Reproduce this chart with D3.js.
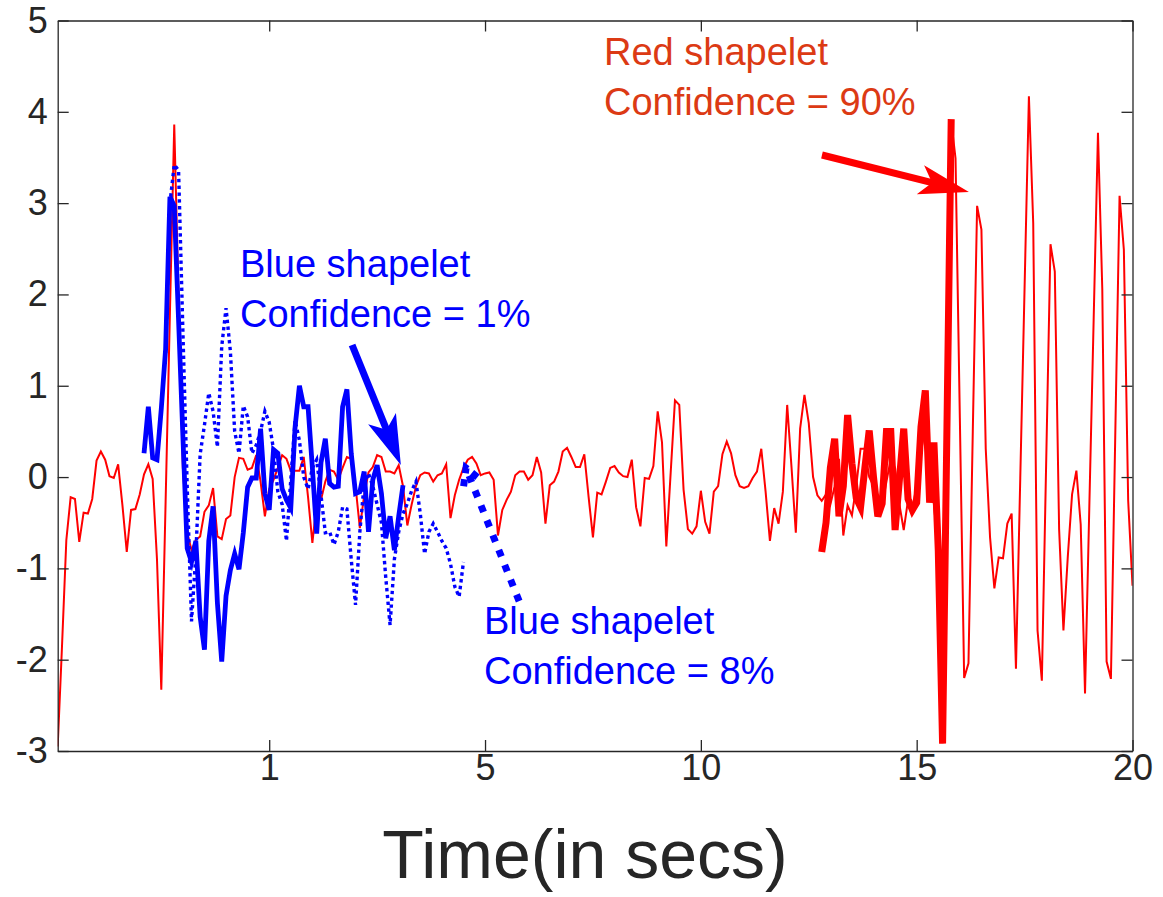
<!DOCTYPE html>
<html><head><meta charset="utf-8">
<script src="https://cdn.jsdelivr.net/npm/d3@7"></script>
<style>body{margin:0;background:#fff}svg{display:block}</style>
</head><body><svg id="chart" width="1163" height="897"></svg>
<script>
// ---------- data ----------
const redSignal = [
-2.95,-1.85,-0.69,-0.22,-0.24,-0.71,-0.39,-0.40,-0.24,0.18,
0.28,0.19,0.01,-0.01,0.14,-0.31,-0.82,-0.36,-0.35,-0.19,
0.03,0.14,-0.02,-0.90,-2.33,-0.27,1.80,3.86,1.98,0.10,
-0.61,-0.80,-0.69,-0.65,-0.38,-0.31,-0.12,-0.65,-0.68,-0.46,
-0.42,0.00,0.21,0.20,0.08,0.10,0.24,-0.05,-0.43,-0.13,
-0.03,0.10,0.24,0.20,0.07,0.07,0.07,0.22,-0.22,-0.72,
-0.28,-0.25,-0.05,0.08,0.06,-0.03,0.10,0.22,0.20,-0.10,
-0.56,-0.20,0.05,0.11,0.24,0.22,0.06,0.06,0.04,0.13,
-0.10,-0.53,-0.30,-0.10,0.02,0.05,0.04,-0.05,0.02,0.04,
0.14,-0.45,-0.20,-0.03,0.10,0.19,0.22,0.15,0.02,0.04,
0.05,-0.03,-0.64,-0.36,-0.25,-0.16,0.02,0.06,0.06,-0.03,
0.02,0.22,0.05,-0.51,-0.09,-0.05,0.06,0.28,0.32,0.22,
0.11,0.11,0.25,-0.22,-0.66,-0.17,-0.19,-0.05,0.10,0.12,
0.05,0.01,0.00,0.19,-0.33,-0.54,-0.01,-0.02,0.12,0.72,
0.38,-0.76,0.04,0.84,0.79,-0.14,-0.57,-0.62,-0.54,-0.15,
-0.49,-0.62,-0.16,-0.10,0.25,0.39,0.26,0.02,-0.10,-0.12,
-0.10,-0.01,0.06,0.31,-0.16,-0.70,-0.34,-0.51,-0.16,0.79,
0.11,-0.61,0.53,0.90,0.59,0.00,-0.20,-0.26,-0.19,-0.30,
-0.10,0.20,-0.64,-0.31,-0.42,-0.10,0.31,0.31,0.00,-0.10,
-0.20,-0.30,-0.05,0.20,0.10,-0.30,-0.58,-0.25,-0.33,-0.10,
0.28,0.55,0.10,-0.30,-0.80,-2.90,0.50,3.90,3.49,0.65,
-2.20,-2.04,0.50,2.97,2.71,0.31,-0.66,-1.22,-0.88,-0.89,
-0.51,-0.40,-2.10,-0.01,2.08,4.17,2.78,-1.68,-2.23,0.16,
2.55,2.25,-0.57,-1.68,-0.88,-0.19,0.07,-0.52,-2.37,-0.32,
1.72,3.77,2.06,-2.02,-2.21,0.44,3.08,2.49,-0.26,-1.19
];

const blueSolidStart = 21;
const blueSolid = [
0.26,0.77,0.21,0.19,0.75,1.40,3.07,2.97,1.72,0.45,
-0.78,-0.93,-0.70,-1.53,-1.89,-0.70,-0.32,-1.38,-2.02,-1.30,
-1.02,-0.84,-1.01,-0.61,-0.11,-0.01,-0.01,0.53,-0.18,-0.36,
0.30,0.26,-0.13,-0.25,-0.34,0.55,1.00,0.77,0.77,0.10,
-0.62,0.16,0.42,-0.07,-0.11,-0.10,0.77,0.96,0.26,-0.18,
-0.16,0.06,-0.60,-0.03,0.13,-0.18,-0.67,-0.43,-0.80,-0.43,
-0.09
];

const blueDottedStart = 26;
const blueDotted = [
1.36,3.00,3.42,3.36,1.60,-0.10,-1.58,-0.85,0.25,0.57,
0.92,0.72,0.33,1.43,1.85,1.38,0.50,0.26,0.78,0.66,
0.26,0.35,0.50,0.72,0.60,0.30,-0.16,-0.30,-0.70,-0.03,
0.62,0.40,0.00,-0.13,0.10,0.19,-0.20,-0.61,-0.60,-0.74,
-0.60,-0.33,-0.35,-0.90,-1.40,-0.60,-0.07,0.04,-0.10,-0.30,
-0.50,-1.10,-1.62,-0.90,-0.60,-0.40,-0.29,-0.15,-0.05,-0.40,
-0.84,-0.60,-0.51,-0.60,-0.70,-0.78,-0.95,-1.20,-1.31,-0.93
];

const redShapeletStart = 178;
const redShapelet = [
-0.82,-0.50,0.10,0.42,-0.43,-0.10,0.68,0.15,-0.23,-0.33,
0.10,0.51,0.00,-0.43,-0.29,0.50,0.50,-0.58,-0.03,0.53,
-0.24,-0.36,-0.28,0.55,0.95,-0.28,0.38,-0.80,-2.92,0.50,
3.92
];

const xTickValues = [50, 100, 150, 200, 250];
const xTickLabels = ["1", "5", "10", "15", "20"];
const yTickValues = [-3, -2, -1, 0, 1, 2, 3, 4, 5];
const xDomain = [1, 250];
const yDomain = [-3, 5];
const xAxisTitle = "Time(in secs)";
const redNote = ["Red shapelet", "Confidence = 90%"];
const blueNote1 = ["Blue shapelet", "Confidence = 1%"];
const blueNote8 = ["Blue shapelet", "Confidence = 8%"];

// ---------- layout ----------
const plot = {left: 57.7, right: 1132.5, top: 20.5, bottom: 751};
const FONT = "'Liberation Sans', Arial, Helvetica, sans-serif";
const AXIS_COLOR = "#262626";
const svg = d3.select("#chart");

const x = d3.scaleLinear().domain(xDomain).range([plot.left, plot.right]);
const y = d3.scaleLinear().domain(yDomain).range([plot.bottom, plot.top]);

svg.append("defs").append("clipPath").attr("id", "clip")
  .append("rect").attr("x", plot.left).attr("y", plot.top)
  .attr("width", plot.right - plot.left).attr("height", plot.bottom - plot.top);

const line = d3.line().x(d => x(d[0])).y(d => y(d[1]));
const toPts = (arr, start) => arr.map((v, i) => [start + i, v]);

const g = svg.append("g").attr("clip-path", "url(#clip)");

g.append("path").datum(toPts(redSignal, 1))
  .attr("d", line).attr("fill", "none").attr("stroke", "#ff0000")
  .attr("stroke-width", 2).attr("stroke-linejoin", "miter");

g.append("path").datum(toPts(blueDotted, blueDottedStart))
  .attr("d", line).attr("fill", "none").attr("stroke", "#0000ff")
  .attr("stroke-width", 3.4).attr("stroke-dasharray", "3.4,3.4");

g.append("path").datum(toPts(blueSolid, blueSolidStart))
  .attr("d", line).attr("fill", "none").attr("stroke", "#0000ff")
  .attr("stroke-width", 4.8).attr("stroke-linejoin", "miter");

g.append("path").datum(toPts(redShapelet, redShapeletStart))
  .attr("d", line).attr("fill", "none").attr("stroke", "#ff0000")
  .attr("stroke-width", 7).attr("stroke-linejoin", "miter");

// ---------- axes ----------
const TICK = 11;
const yFmt = d => String(d);
const axB = d3.axisBottom(x).tickValues(xTickValues)
  .tickFormat((d, i) => xTickLabels[i]).tickSizeInner(-TICK).tickSizeOuter(0).tickPadding(3);
const axT = d3.axisTop(x).tickValues(xTickValues).tickFormat("").tickSizeInner(-TICK).tickSizeOuter(0);
const axL = d3.axisLeft(y).tickValues(yTickValues).tickFormat(yFmt)
  .tickSizeInner(-TICK).tickSizeOuter(0).tickPadding(10);
const axR = d3.axisRight(y).tickValues(yTickValues).tickFormat("").tickSizeInner(-TICK).tickSizeOuter(0);

function styleAxis(sel) {
  sel.selectAll("path").attr("stroke", AXIS_COLOR).attr("stroke-width", 1.3);
  sel.selectAll("line").attr("stroke", AXIS_COLOR).attr("stroke-width", 1.3);
  sel.selectAll("text").attr("fill", AXIS_COLOR).style("font-family", FONT).style("font-size", "36px");
}
svg.append("g").attr("transform", `translate(0,${plot.bottom})`).call(axB).call(styleAxis);
svg.append("g").attr("transform", `translate(0,${plot.top})`).call(axT).call(styleAxis);
svg.append("g").attr("transform", `translate(${plot.left},0)`).call(axL).call(styleAxis);
svg.append("g").attr("transform", `translate(${plot.right},0)`).call(axR).call(styleAxis);

svg.append("text").attr("x", 585).attr("y", 878)
  .attr("text-anchor", "middle").attr("fill", AXIS_COLOR)
  .style("font-family", FONT).style("font-size", "68px").text(xAxisTitle);

// ---------- annotations ----------
function note(lines, px, baseY, color) {
  const t = svg.append("text").attr("fill", color).style("font-family", FONT).style("font-size", "38px");
  lines.forEach((s, i) => t.append("tspan").attr("x", px).attr("y", baseY + i * 50).text(s));
}
note(redNote, 604, 65, "#dc3a14");
note(blueNote1, 240, 277, "#0000ff");
note(blueNote8, 484, 634, "#0000ff");

function arrow(x0, y0, x1, y1, color, width, dashed) {
  const p0 = [x(x0), y(y0)], p1 = [x(x1), y(y1)];
  const dx = p1[0] - p0[0], dy = p1[1] - p0[1];
  const len = Math.hypot(dx, dy), ang = Math.atan2(dy, dx) * 180 / Math.PI;
  const L = 50, Wd = 30, notch = 38;
  const ga = svg.append("g").attr("transform", `translate(${p0[0]},${p0[1]}) rotate(${ang})`);
  if (dashed) {
    ga.append("line").attr("x1", 0).attr("y1", 0).attr("x2", len).attr("y2", 0)
      .attr("stroke", color).attr("stroke-width", width).attr("stroke-dasharray", "7,9");
    const hl = 16, hw = 9;
    ga.append("path").attr("d", `M${len - hl},${-hw} L${len},0 L${len - hl},${hw}`)
      .attr("fill", "none").attr("stroke", color).attr("stroke-width", width)
      .attr("stroke-dasharray", "7,6");
  } else {
    ga.append("line").attr("x1", 0).attr("y1", 0).attr("x2", len - notch + 2).attr("y2", 0)
      .attr("stroke", color).attr("stroke-width", width);
    ga.append("path")
      .attr("d", `M${len},0 L${len - L},${-Wd / 2} L${len - notch},0 L${len - L},${Wd / 2} Z`)
      .attr("fill", color);
  }
}
arrow(69.2, 1.446, 80.5, 0.132, "#0000ff", 7, false);
arrow(178.06, 3.527, 212.1, 3.122, "#ff0000", 7, false);
arrow(107.9, -1.359, 95.6, 0.099, "#0000ff", 7, true);
</script></body></html>
